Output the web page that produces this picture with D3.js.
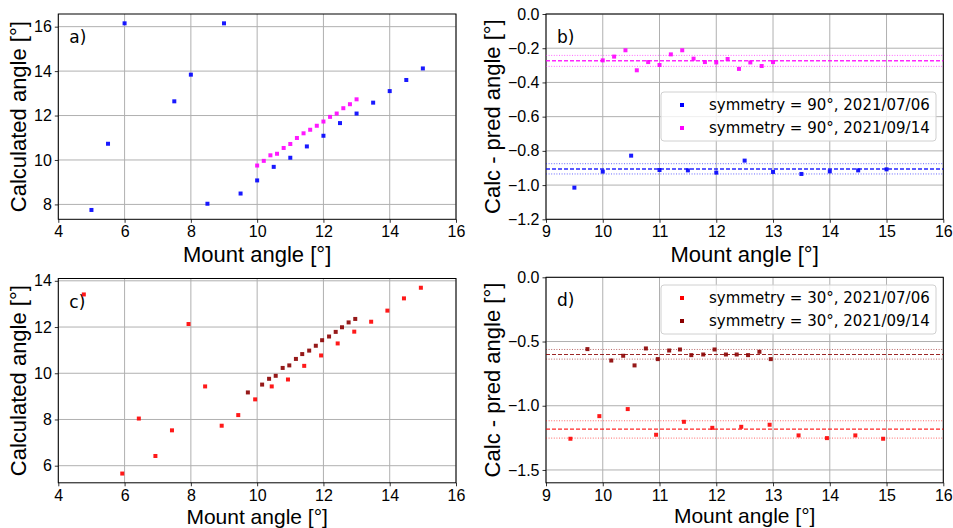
<!DOCTYPE html>
<html>
<head>
<meta charset="utf-8">
<script src="https://cdn.jsdelivr.net/npm/d3@7"></script>
<style>
  body { margin: 0; background: #fff; }
  svg { display: block; }
  .tick text { font-family: "Liberation Sans", Arial, sans-serif; font-size: 16px; fill: #000; }
  .label { font-family: "Liberation Sans", Arial, sans-serif; font-size: 22px; fill: #000; }
  .label.low { font-size: 21px; }
  .tag { font-family: "DejaVu Sans", sans-serif; font-size: 17px; fill: #000; }
  .legend text { font-family: "DejaVu Sans", sans-serif; font-size: 15px; fill: #000; }
</style>
</head>
<body>
<svg width="953" height="528"></svg>
<script>
// panel a) calculated vs mount angle, symmetry 90
var a_x0706 = [5, 5.5, 6, 7.5, 8, 8.5, 9, 9.5, 10, 10.5, 11, 11.5, 12, 12.5, 13, 13.5, 14, 14.5, 15];
var a_y0706 = [7.75, 10.73, 16.15, 12.64, 13.84, 8.03, 16.15, 8.49, 9.08, 9.69, 10.1, 10.61, 11.09, 11.66, 12.09, 12.58, 13.1, 13.6, 14.12];
var a_x0914 = [10, 10.2, 10.4, 10.6, 10.8, 11, 11.2, 11.4, 11.6, 11.8, 12, 12.2, 12.4, 12.6, 12.8, 13];
var a_y0914 = [9.75, 9.96, 10.21, 10.28, 10.54, 10.72, 10.99, 11.2, 11.36, 11.54, 11.73, 11.94, 12.09, 12.33, 12.51, 12.73];

// panel b) calc - pred, symmetry 90
var b_x0706 = [9.5, 10, 10.5, 11, 11.5, 12, 12.5, 13, 13.5, 14, 14.5, 15];
var b_y0706 = [-1.015, -0.921, -0.828, -0.912, -0.914, -0.927, -0.857, -0.923, -0.935, -0.92, -0.914, -0.908];
var b_x0914 = a_x0914;
var b_y0914 = [-0.271, -0.249, -0.212, -0.329, -0.281, -0.298, -0.236, -0.212, -0.261, -0.281, -0.283, -0.263, -0.321, -0.283, -0.304, -0.281];
var b_lines0706 = [-0.906, -0.875, -0.935]; // mean, mean+sd, mean-sd
var b_lines0914 = [-0.273, -0.242, -0.306];

// panel c) calculated vs mount angle, symmetry 30
var c_x0706 = [4.77, 5.93, 6.43, 6.93, 7.43, 7.93, 8.43, 8.93, 9.43, 9.94, 10.44, 10.93, 11.42, 11.93, 12.43, 12.93, 13.44, 13.93, 14.43, 14.94];
var c_y0706 = [13.41, 5.66, 8.04, 6.42, 7.53, 12.13, 9.43, 7.73, 8.19, 8.87, 9.43, 9.73, 10.32, 10.77, 11.29, 11.8, 12.23, 12.71, 13.24, 13.7];
var c_x0914 = [9.72, 10.15, 10.36, 10.56, 10.77, 10.97, 11.17, 11.36, 11.57, 11.77, 11.96, 12.17, 12.37, 12.56, 12.76, 12.96];
var c_y0914 = [9.17, 9.51, 9.76, 9.89, 10.23, 10.34, 10.62, 10.83, 10.98, 11.19, 11.43, 11.59, 11.79, 11.99, 12.2, 12.35];

// panel d) calc - pred, symmetry 30
var d_x0706 = [9.43, 9.94, 10.44, 10.94, 11.43, 11.93, 12.44, 12.94, 13.45, 13.95, 14.45, 14.94];
var d_y0706 = [-1.257, -1.081, -1.026, -1.226, -1.125, -1.172, -1.164, -1.148, -1.231, -1.252, -1.231, -1.257];
var d_x0914 = [9.73, 10.15, 10.36, 10.56, 10.76, 10.97, 11.17, 11.36, 11.56, 11.77, 11.97, 12.17, 12.36, 12.56, 12.76, 12.96];
var d_y0914 = [-0.559, -0.648, -0.611, -0.686, -0.554, -0.637, -0.57, -0.562, -0.606, -0.601, -0.562, -0.601, -0.601, -0.606, -0.58, -0.637];
var d_lines0706 = [-1.182, -1.117, -1.252];
var d_lines0914 = [-0.601, -0.562, -0.637];

var legendB = ["symmetry = 90°, 2021/07/06", "symmetry = 90°, 2021/09/14"];
var legendD = ["symmetry = 30°, 2021/07/06", "symmetry = 30°, 2021/09/14"];

var svg = d3.select('svg');

// draw one axes box with grid, ticks and labels
function panel(box, xDom, yDom, xTicks, yTicks, yFmt, yLabel, tag) {
    var g = svg.append('g').attr('transform', 'translate(' + [box.l, box.t] + ')');
    var w = box.r - box.l, h = box.b - box.t;
    var x = d3.scaleLinear().domain(xDom).range([0, w]);
    var y = d3.scaleLinear().domain(yDom).range([h, 0]);

    // grid
    g.append('g').selectAll('line').data(xTicks).join('line')
        .attr('x1', d => x(d)).attr('x2', d => x(d)).attr('y1', 0).attr('y2', h)
        .attr('stroke', '#b0b0b0').attr('stroke-width', 1);
    g.append('g').selectAll('line').data(yTicks).join('line')
        .attr('y1', d => y(d)).attr('y2', d => y(d)).attr('x1', 0).attr('x2', w)
        .attr('stroke', '#b0b0b0').attr('stroke-width', 1);

    var xa = g.append('g').attr('transform', 'translate(0,' + h + ')')
        .call(d3.axisBottom(x).tickValues(xTicks).tickSize(3.5).tickPadding(3).tickFormat(d3.format('d')));
    var ya = g.append('g')
        .call(d3.axisLeft(y).tickValues(yTicks).tickSize(3.5).tickPadding(3).tickFormat(yFmt));
    [xa, ya].forEach(function(a) {
        a.select('.domain').remove();
        a.selectAll('.tick line').attr('stroke', '#000').attr('stroke-width', 0.8);
    });

    g.append('rect').attr('width', w).attr('height', h)
        .attr('fill', 'none').attr('stroke', '#000').attr('stroke-width', 1);

    g.append('text').attr('class', box.low ? 'label low' : 'label')
        .attr('x', w / 2).attr('y', h + box.xl)
        .attr('text-anchor', 'middle').text('Mount angle [°]');
    g.append('text').attr('class', 'label')
        .attr('transform', 'translate(' + (box.yl - box.l) + ',' + (h / 2) + ') rotate(-90)')
        .attr('text-anchor', 'middle').text(yLabel);
    g.append('text').attr('class', 'tag')
        .attr('x', 11).attr('y', 29).text(tag);

    return {g: g, x: x, y: y, w: w, h: h};
}

function dots(p, xs, ys, color) {
    p.g.append('g').selectAll('rect').data(xs).join('rect')
        .attr('x', (d, i) => p.x(d) - 2)
        .attr('y', (d, i) => p.y(ys[i]) - 2)
        .attr('width', 4).attr('height', 4)
        .attr('fill', color).attr('fill-opacity', 0.9);
}

function hlines(p, vals, color, dashW) {
    p.g.append('g').selectAll('line').data(vals).join('line')
        .attr('x1', 0).attr('x2', p.w)
        .attr('y1', d => p.y(d)).attr('y2', d => p.y(d))
        .attr('stroke', color)
        .attr('stroke-opacity', (d, i) => i === 0 ? 0.85 : 0.6)
        .attr('stroke-width', (d, i) => i === 0 ? dashW : 1)
        .attr('stroke-dasharray', (d, i) => i === 0 ? '4,2' : '1,1.6');
}

function legend(box, labels, colors) {
    var lg = svg.append('g').attr('class', 'legend');
    lg.append('rect').attr('x', box.x).attr('y', box.y)
        .attr('width', box.w).attr('height', box.h).attr('rx', 3)
        .attr('fill', '#fff').attr('fill-opacity', 0.8)
        .attr('stroke', '#d0d0d0').attr('stroke-width', 1);
    labels.forEach(function(t, i) {
        var cy = box.y + 13 + i * 23;
        lg.append('rect').attr('x', box.x + 19).attr('y', cy - 2)
            .attr('width', 4).attr('height', 4).attr('fill', colors[i]);
        lg.append('text').attr('x', box.x + 48).attr('y', cy + 5).text(t);
    });
}

var fmt1 = d3.format('.1f');

// a)
var pa = panel({l: 58.3, r: 456, t: 14, b: 219.3, yl: 26, xl: 43}, [4, 16], [7.33, 16.57],
    [4, 6, 8, 10, 12, 14, 16], [8, 10, 12, 14, 16], d3.format('d'), 'Calculated angle [°]', 'a)');
dots(pa, a_x0706, a_y0706, '#0000ff');
dots(pa, a_x0914, a_y0914, '#ff00ff');

// b)
var pb = panel({l: 546, r: 943.3, t: 14, b: 219.3, yl: 500, xl: 43}, [9, 16], [-1.2, 0],
    [9, 10, 11, 12, 13, 14, 15, 16], [-1.2, -1.0, -0.8, -0.6, -0.4, -0.2, 0], fmt1, 'Calc - pred angle [°]', 'b)');
hlines(pb, b_lines0706, '#0000ff', 1.6);
hlines(pb, b_lines0914, '#ff00ff', 1.6);
dots(pb, b_x0706, b_y0706, '#0000ff');
dots(pb, b_x0914, b_y0914, '#ff00ff');
legend({x: 661, y: 92, w: 275, h: 49}, legendB, ['#0000ff', '#ff00ff']);

// c) - bottom row sits a touch higher so its x label fits on the page
var pc = panel({l: 58.3, r: 456, t: 278.5, b: 482.8, yl: 26, xl: 40.7, low: true}, [4, 16], [5.26, 14.1],
    [4, 6, 8, 10, 12, 14, 16], [6, 8, 10, 12, 14], d3.format('d'), 'Calculated angle [°]', 'c)');
dots(pc, c_x0706, c_y0706, '#ff0000');
dots(pc, c_x0914, c_y0914, '#8b0000');

// d)
var pd = panel({l: 546, r: 943.3, t: 277.3, b: 482.8, yl: 500, xl: 40.7, low: true}, [9, 16], [-1.6, 0],
    [9, 10, 11, 12, 13, 14, 15, 16], [-1.5, -1.0, -0.5, 0], fmt1, 'Calc - pred angle [°]', 'd)');
hlines(pd, d_lines0706, '#ff0000', 1.1);
hlines(pd, d_lines0914, '#8b0000', 1.1);
dots(pd, d_x0706, d_y0706, '#ff0000');
dots(pd, d_x0914, d_y0914, '#8b0000');
legend({x: 661, y: 285, w: 275, h: 49}, legendD, ['#ff0000', '#8b0000']);
</script>
</body>
</html>
